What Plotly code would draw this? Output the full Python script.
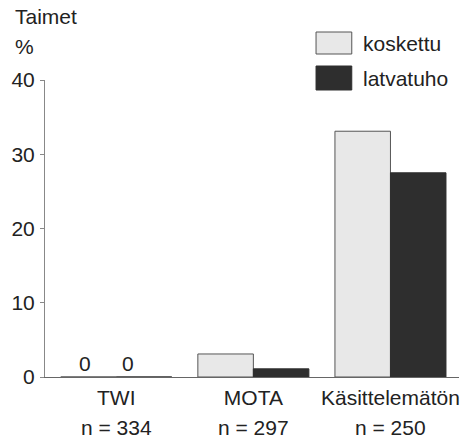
import plotly.graph_objects as go

categories = ["TWI", "MOTA", "Käsittelemätön"]
n_labels = ["n = 334", "n = 297", "n = 250"]
koskettu = [0, 3.1, 33.1]
latvatuho = [0, 1.1, 27.5]
zero_labels = ["0", "0"]
y_ticks = [0, 10, 20, 30, 40]

FONT = "Liberation Sans, Arial, sans-serif"
FS = 21
fig = go.Figure()
fig.add_trace(go.Bar(x=categories, y=koskettu, name="koskettu",
                     marker=dict(color="#e8e8e8", line=dict(color="#555", width=1))))
fig.add_trace(go.Bar(x=categories, y=latvatuho, name="latvatuho",
                     marker=dict(color="#2e2e2e", line=dict(color="#2e2e2e", width=1))))

fig.update_layout(
    width=470, height=439,
    margin=dict(l=42, r=11, t=80, b=62),
    paper_bgcolor="white", plot_bgcolor="white",
    barmode="group", bargap=0.19, bargroupgap=0,
    showlegend=False,
    font=dict(family=FONT, size=FS, color="#222"),
    xaxis=dict(range=[-0.52, 2.5], showline=True, linecolor="#666", linewidth=1,
               ticks="", showgrid=False, tickfont=dict(size=FS), ticklabelstandoff=2),
    yaxis=dict(range=[0, 40], tickvals=y_ticks, showline=True, linecolor="#888", linewidth=1,
               ticks="outside", ticklen=4, tickcolor="#888", showgrid=False, zeroline=False,
               tickfont=dict(size=FS), ticklabelstandoff=1),
)

# zero value labels on TWI
for lab, shift in zip(zero_labels, [-31, 12]):
    fig.add_annotation(x=categories[0], y=0, xref="x", yref="y", text=lab, showarrow=False,
                       xshift=shift, yanchor="bottom", yshift=0, font=dict(size=FS))

# n labels
for cat, nl in zip(categories, n_labels):
    fig.add_annotation(x=cat, y=0, xref="x", yref="paper", text=nl, showarrow=False,
                       yanchor="middle", yshift=-50, font=dict(size=FS))

def px_x(px):
    return (px - 42) / 417

def px_y(py):
    return (377 - py) / 297

# axis title
fig.add_annotation(xref="paper", yref="paper", x=px_x(10), y=px_y(17), text="Taimet",
                   showarrow=False, xanchor="left", yanchor="middle")
fig.add_annotation(xref="paper", yref="paper", x=px_x(10), y=px_y(47), text="%",
                   showarrow=False, xanchor="left", yanchor="middle")

# legend drawn manually
legend = [("koskettu", "#e8e8e8", "#555", 32, 54), ("latvatuho", "#2e2e2e", "#2e2e2e", 66, 90)]
for name, fill, line, y0, y1 in legend:
    fig.add_shape(type="rect", xref="paper", yref="paper", x0=px_x(315), x1=px_x(351),
                  y0=px_y(y1), y1=px_y(y0), fillcolor=fill, line=dict(color=line, width=1))
    fig.add_annotation(xref="paper", yref="paper", x=px_x(360), y=px_y((y0 + y1) / 2),
                       text=name, showarrow=False, xanchor="left", yanchor="middle")

fig.write_html("out.html", post_script="document.body.style.margin='0';",
               config={"displayModeBar": False})
